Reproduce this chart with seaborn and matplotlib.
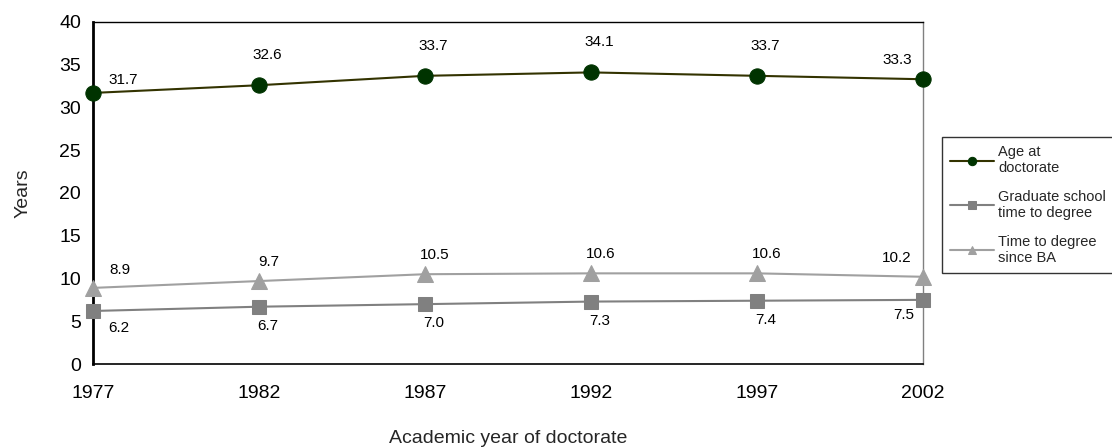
import matplotlib
matplotlib.use("Agg")
import matplotlib.pyplot as plt
import seaborn as sns
import pandas as pd

years = [1977, 1982, 1987, 1992, 1997, 2002]
age_at_doctorate = [31.7, 32.6, 33.7, 34.1, 33.7, 33.3]
grad_time_to_degree = [6.2, 6.7, 7.0, 7.3, 7.4, 7.5]
time_since_ba = [8.9, 9.7, 10.5, 10.6, 10.6, 10.2]
series_names = ["Age at\ndoctorate", "Graduate school\ntime to degree", "Time to degree\nsince BA"]

sns.set_style("white")
plt.rcParams["font.family"] = ["Liberation Sans", "DejaVu Sans"]

fig, ax = plt.subplots(figsize=(11.12, 4.48), dpi=100)
fig.subplots_adjust(left=0.0836, right=0.830, top=0.951, bottom=0.1875)

df = pd.DataFrame({"year": years, "age": age_at_doctorate,
                   "grad": grad_time_to_degree, "ba": time_since_ba})

styles = [
    ("age", dict(color="#333300", marker="o", markersize=11,
                 markerfacecolor="#003300", markeredgecolor="#003300")),
    ("grad", dict(color="#808080", marker="s", markersize=10,
                  markerfacecolor="#808080", markeredgecolor="#808080")),
    ("ba", dict(color="#A0A0A0", marker="^", markersize=12,
                markerfacecolor="#A0A0A0", markeredgecolor="#A0A0A0")),
]
handles = []
for col, kw in styles:
    sns.lineplot(data=df, x="year", y=col, ax=ax, linewidth=1.5, clip_on=False,
                 zorder=3, **kw)
    handles.append(ax.lines[-1])

# value labels (offsets in pixels)
def offs(i, n, mid, first, last):
    if i == 0:
        return first
    if i == n - 1:
        return last
    return mid

n = len(years)
for i, (x, y) in enumerate(zip(years, age_at_doctorate)):
    dx, dy = offs(i, n, (8, 30), (30, 13), (-26, 19))
    ax.annotate(f"{y:.1f}", (x, y), xytext=(dx, dy), textcoords="offset pixels",
                ha="center", va="center", fontsize=11, color="black")
for i, (x, y) in enumerate(zip(years, time_since_ba)):
    dx, dy = offs(i, n, (10, 19), (27, 18), (-26, 19))
    ax.annotate(f"{y:.1f}", (x, y), xytext=(dx, dy), textcoords="offset pixels",
                ha="center", va="center", fontsize=11, color="black")
for i, (x, y) in enumerate(zip(years, grad_time_to_degree)):
    dx, dy = offs(i, n, (9, -19), (26, -17), (-19, -15))
    ax.annotate(f"{y:.1f}", (x, y), xytext=(dx, dy), textcoords="offset pixels",
                ha="center", va="center", fontsize=11, color="black")

ax.set_xlim(1977, 2002)
ax.set_ylim(0, 40)
ax.set_xticks(years)
ax.set_yticks(range(0, 41, 5))
ax.tick_params(axis="both", labelsize=14, colors="black", direction="out",
               length=5, width=1)
ax.tick_params(axis="x", pad=10)
ax.set_xlabel("Academic year of doctorate", fontsize=14, labelpad=20)
ax.set_ylabel("Years", fontsize=14, labelpad=20)

ax.spines["left"].set_linewidth(2)
ax.spines["left"].set_color("black")
ax.spines["bottom"].set_linewidth(1.2)
ax.spines["bottom"].set_color("black")
ax.spines["top"].set_linewidth(1)
ax.spines["top"].set_color("black")
ax.spines["right"].set_linewidth(1)
ax.spines["right"].set_color("#808080")

leg = fig.legend(handles, series_names, loc="upper left",
                 bbox_to_anchor=(0.847, 0.694), borderaxespad=0, frameon=True,
                 fancybox=False, fontsize=10.5, handlelength=3.0,
                 handletextpad=0.3, labelspacing=1.0, borderpad=0.55,
                 edgecolor="black")
leg.get_frame().set_linewidth(1)
for h in leg.legend_handles:
    h.set_markersize(6)

fig.savefig("out.png", dpi=100)
